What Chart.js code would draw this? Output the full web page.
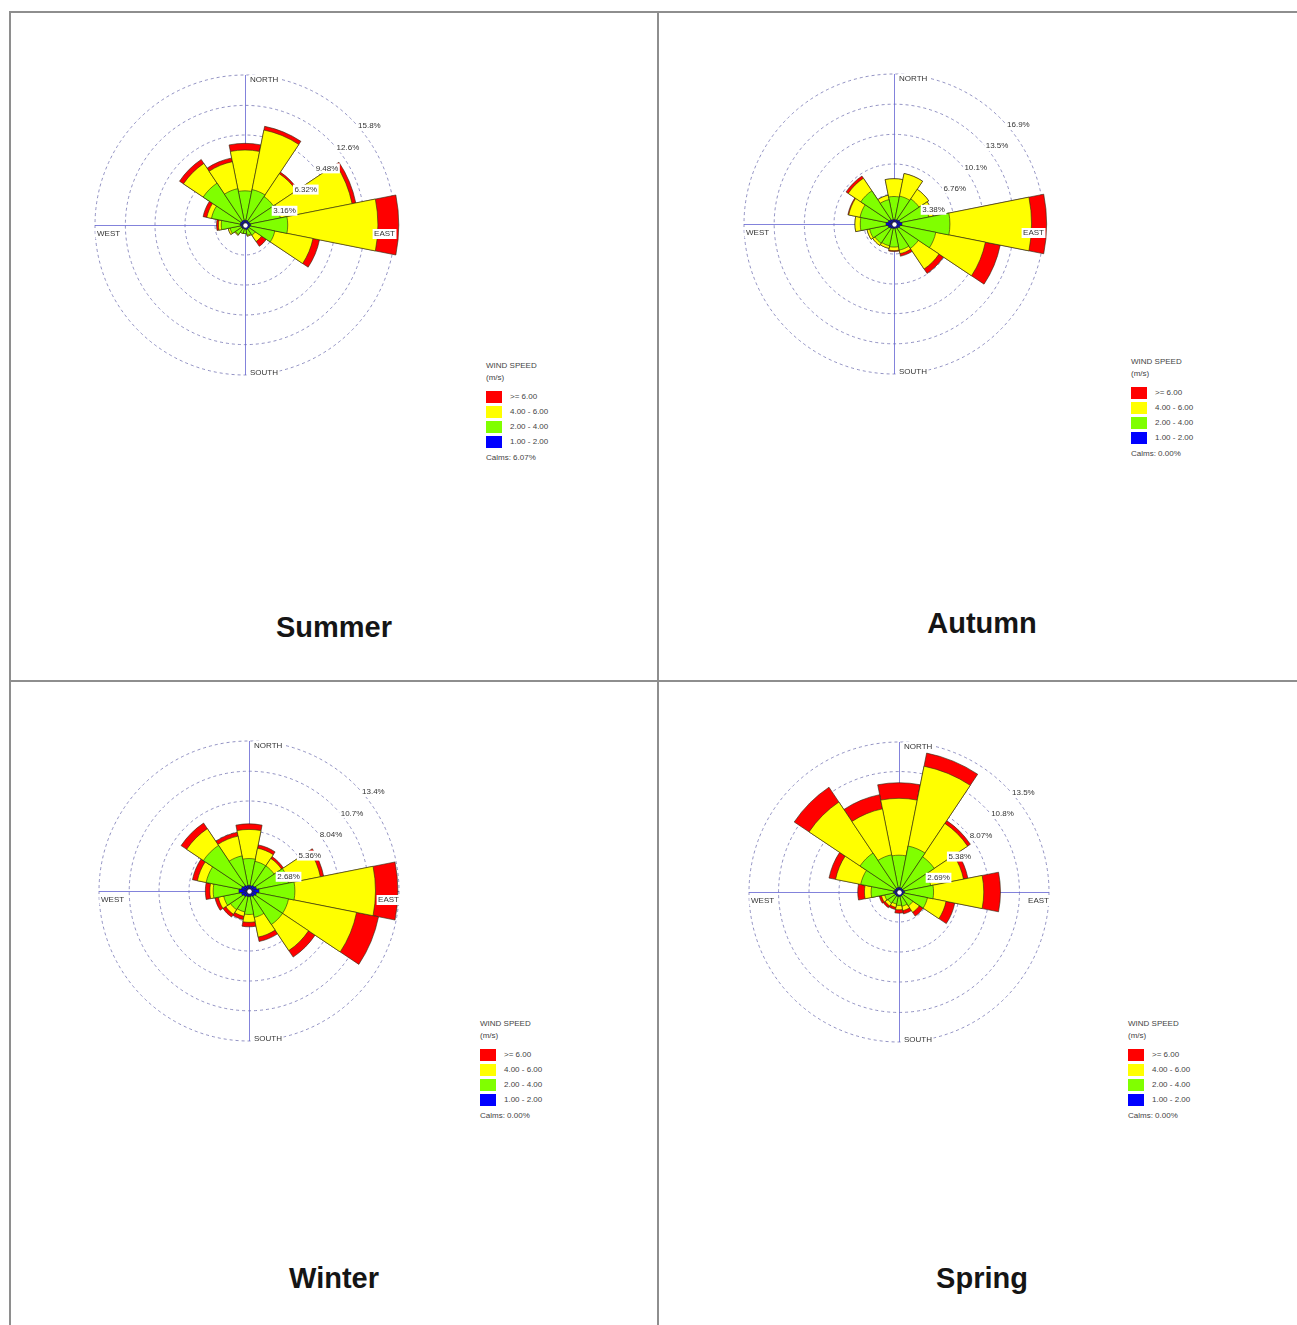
<!DOCTYPE html>
<html><head><meta charset="utf-8">
<script src="https://cdn.jsdelivr.net/npm/chart.js@4.4.1/dist/chart.umd.min.js"></script>
<style>
html,body{margin:0;padding:0;background:#fff;}
body{width:1297px;height:1325px;position:relative;overflow:hidden;font-family:"Liberation Sans",Arial,sans-serif;}
.hl{position:absolute;height:2px;background:#8e8e8e;}
.vl{position:absolute;width:2px;background:#8e8e8e;}
canvas{position:absolute;}
.title{position:absolute;font-weight:bold;font-size:29px;color:#151515;transform:translate(-50%,-50%);white-space:nowrap;}
.lg{position:absolute;font-size:8px;color:#444;white-space:nowrap;line-height:10px;}
.box{position:absolute;width:16px;height:12px;}
</style>
</head><body>
<div class="hl" style="left:10px;top:11px;width:1287px;"></div>
<div class="hl" style="left:10px;top:680px;width:1287px;"></div>
<div class="vl" style="left:9px;top:11px;height:1314px;"></div>
<div class="vl" style="left:657px;top:11px;height:1314px;"></div>
<script>
// ---------- data ----------
const directions = ['N','NNE','NE','ENE','E','ESE','SE','SSE','S','SSW','SW','WSW','W','WNW','NW','NNW'];
const speedLabels = ['>= 6.00','4.00 - 6.00','2.00 - 4.00','1.00 - 2.00'];
const seasonNames = ['Summer','Autumn','Winter','Spring'];
const calmsValues = ['6.07%','0.00%','0.00%','0.00%'];
const cardinalNames = ['NORTH','SOUTH','EAST','WEST'];

// speed classes per direction (% frequency)
const summerBlue   = [0.5,0.5,0.5,0.5,0.6,0.5,0.5,0.5,0.4,0.4,0.4,0.4,0.5,0.5,0.5,0.5];
const summerGreen  = [3.1,3.3,3.1,3.3,3.9,2.7,0.8,0.6,0.5,0.5,0.8,1.2,2.0,3.1,4.8,3.4];
const summerYellow = [4.3,6.4,2.9,7.7,9.5,4.1,0.8,0.1,0.0,0.0,0.1,0.2,0.3,0.5,2.5,2.9];
const summerRed    = [0.7,0.4,0.2,0.4,2.2,0.7,0.6,0.0,0.0,0.0,0.0,0.0,0.2,0.4,0.5,0.4];
const summerTicks  = [3.16,6.32,9.48,12.6,15.8];
const summerTickLabels = ['3.16%','6.32%','9.48%','12.6%','15.8%'];

const autumnBlue   = [0.5,0.5,0.6,0.7,0.9,0.7,0.6,0.5,0.5,0.5,0.6,0.7,0.9,0.7,0.6,0.5];
const autumnGreen  = [2.6,2.7,2.8,3.3,5.4,4.1,2.7,2.5,2.1,2.0,2.0,2.1,2.9,3.2,3.9,2.3];
const autumnYellow = [2.0,2.6,1.3,0.5,9.2,5.7,2.8,0.4,0.4,0.3,0.3,0.3,0.6,1.3,1.7,0.5];
const autumnRed    = [0.0,0.0,0.0,0.0,1.7,1.7,0.6,0.3,0.1,0.0,0.0,0.0,0.0,0.1,0.3,0.0];
const autumnTicks  = [3.38,6.76,10.1,13.5,16.9];
const autumnTickLabels = ['3.38%','6.76%','10.1%','13.5%','16.9%'];

const winterBlue   = [0.5,0.5,0.6,0.7,0.9,0.7,0.6,0.5,0.5,0.5,0.6,0.7,0.9,0.7,0.6,0.5];
const winterGreen  = [2.4,2.2,2.1,2.9,3.2,2.9,3.0,1.9,1.6,1.4,1.4,1.6,2.3,3.2,4.3,2.7];
const winterYellow = [2.6,1.2,0.8,2.9,7.2,6.2,2.8,1.8,0.7,0.4,0.5,0.5,0.3,0.8,1.8,1.8];
const winterRed    = [0.5,0.3,0.2,0.3,2.0,2.0,0.7,0.4,0.4,0.3,0.3,0.3,0.4,0.45,0.6,0.35];
const winterTicks  = [2.68,5.36,8.04,10.7,13.4];
const winterTickLabels = ['2.68%','5.36%','8.04%','10.7%','13.4%'];

const springBlue   = [0.4,0.4,0.4,0.4,0.5,0.4,0.4,0.4,0.4,0.4,0.4,0.4,0.5,0.4,0.4,0.4];
const springGreen  = [2.9,3.8,3.4,2.5,2.6,2.2,1.1,0.9,0.8,0.7,0.8,0.9,2.0,3.1,3.8,3.0];
const springYellow = [5.1,7.3,3.6,3.0,4.5,1.7,0.7,0.4,0.4,0.3,0.3,0.3,0.6,2.3,5.5,4.2];
const springRed    = [1.4,1.2,0.3,0.4,1.5,0.8,0.4,0.3,0.3,0.2,0.2,0.2,0.6,0.6,1.6,1.3];
const springTicks  = [2.69,5.38,8.07,10.8,13.45];
const springTickLabels = ['2.69%','5.38%','8.07%','10.8%','13.5%'];

// ---------- styles / layout ----------
const classColors = ['#ff0000','#ffff00','#80ff00','#0000ff']; // red, yellow, green, blue
const panels = [
  {cx:245, cy:225, title:[334,627], legend:[486,366]},
  {cx:894, cy:224, title:[982,623], legend:[1131,362]},
  {cx:249, cy:891, title:[334,1278], legend:[480,1024]},
  {cx:899, cy:892, title:[982,1278], legend:[1128,1024]}
];
const seasonData = [
  [summerBlue, summerGreen, summerYellow, summerRed, summerTicks, summerTickLabels],
  [autumnBlue, autumnGreen, autumnYellow, autumnRed, autumnTicks, autumnTickLabels],
  [winterBlue, winterGreen, winterYellow, winterRed, winterTicks, winterTickLabels],
  [springBlue, springGreen, springYellow, springRed, springTicks, springTickLabels]
];

const FONT = '"Liberation Sans", Arial, sans-serif';
const decor = {
  id: 'decor',
  beforeDatasetsDraw(chart) {
    const s = chart.scales.r, ctx = chart.ctx, R = s.drawingArea;
    ctx.save();
    ctx.strokeStyle = 'rgba(100,100,210,0.8)';
    ctx.lineWidth = 1;
    ctx.beginPath();
    ctx.moveTo(s.xCenter + 0.5, s.yCenter - R); ctx.lineTo(s.xCenter + 0.5, s.yCenter + R);
    ctx.moveTo(s.xCenter - R, s.yCenter + 0.5); ctx.lineTo(s.xCenter + R, s.yCenter + 0.5);
    ctx.stroke();
    ctx.restore();
  },
  afterDatasetsDraw(chart, args, opts) {
    const s = chart.scales.r, ctx = chart.ctx, R = s.drawingArea;
    const cx = s.xCenter, cy = s.yCenter;
    ctx.save();
    // calm centre
    ctx.fillStyle = '#fff';
    ctx.beginPath(); ctx.arc(cx + 0.5, cy + 0.5, 2.2, 0, Math.PI * 2); ctx.fill();
    ctx.font = '8px ' + FONT;
    ctx.textBaseline = 'middle';
    ctx.textAlign = 'left';
    const put = (txt, x, y, align) => {
      const w = ctx.measureText(txt).width;
      const left = align === 'right' ? x - w : x;
      ctx.fillStyle = '#fff';
      ctx.fillRect(left - 1.5, y - 5, w + 3, 10);
      ctx.fillStyle = '#333';
      ctx.fillText(txt, left, y);
    };
    opts.tickVals.forEach((v, i) => {
      const r = s.getDistanceFromCenterForValue(v);
      put(opts.tickLabels[i], cx + r * 0.707 + 7, cy - r * 0.707 + 7, 'left');
    });
    put(cardinalNames[0], cx + 5, cy - R + 5, 'left');
    put(cardinalNames[1], cx + 5, cy + R - 2, 'left');
    put(cardinalNames[2], cx + R, cy + 9, 'right');
    put(cardinalNames[3], cx - R + 2, cy + 9, 'left');
    ctx.restore();
  }
};

function cumulate(layers) {
  const out = []; let run = directions.map(() => 0);
  layers.forEach(l => { run = run.map((v, i) => v + l[i]); out.push(run.slice()); });
  return out; // [blue, blue+green, +yellow, +red]
}

panels.forEach((p, k) => {
  const [b, g, y, r, ticks, tickLabels] = seasonData[k];
  const cum = cumulate([b, g, y, r]);
  const cv = document.createElement('canvas');
  cv.width = 400; cv.height = 400;
  cv.style.left = (p.cx - 200) + 'px'; cv.style.top = (p.cy - 200) + 'px';
  cv.style.width = '400px'; cv.style.height = '400px';
  document.body.appendChild(cv);
  const colorsForStack = [classColors[3], classColors[2], classColors[1], classColors[0]];
  new Chart(cv.getContext('2d'), {
    type: 'polarArea',
    data: {
      labels: directions,
      datasets: cum.map((vals, i) => ({
        label: ['1.00 - 2.00','2.00 - 4.00','4.00 - 6.00','>= 6.00'][i],
        data: vals,
        backgroundColor: colorsForStack[i],
        borderColor: '#2a2a10',
        borderWidth: 0.6,
        clip: false
      }))
    },
    options: {
      responsive: false,
      animation: false,
      layout: {padding: 50},
      plugins: {legend: {display: false}, tooltip: {enabled: false},
        decor: {tickVals: ticks, tickLabels: tickLabels}},
      scales: {
        r: {
          min: 0, max: ticks[ticks.length - 1],
          startAngle: -11.25,
          afterBuildTicks: sc => { sc.ticks = [0].concat(ticks).map(v => ({value: v})); },
          ticks: {display: false},
          pointLabels: {display: false},
          angleLines: {display: false},
          grid: {circular: true, color: 'rgba(110,110,175,0.75)', lineWidth: 1},
          border: {dash: [3, 3]}
        }
      }
    },
    plugins: [decor]
  });

  // title
  const t = document.createElement('div');
  t.className = 'title'; t.textContent = seasonNames[k];
  t.style.left = p.title[0] + 'px'; t.style.top = p.title[1] + 'px';
  document.body.appendChild(t);

  // legend
  const [lx, ly] = p.legend;
  const addText = (txt, x, yc) => {
    const d = document.createElement('div'); d.className = 'lg'; d.textContent = txt;
    d.style.left = x + 'px'; d.style.top = (yc - 5) + 'px'; document.body.appendChild(d);
  };
  addText('WIND SPEED', lx, ly);
  addText('(m/s)', lx, ly + 12);
  speedLabels.forEach((lab, i) => {
    const bx = document.createElement('div'); bx.className = 'box';
    bx.style.background = classColors[i];
    bx.style.left = lx + 'px'; bx.style.top = (ly + 25 + i * 15) + 'px';
    document.body.appendChild(bx);
    addText(lab, lx + 24, ly + 31 + i * 15);
  });
  addText('Calms: ' + calmsValues[k], lx, ly + 92);
});
</script>
</body></html>
